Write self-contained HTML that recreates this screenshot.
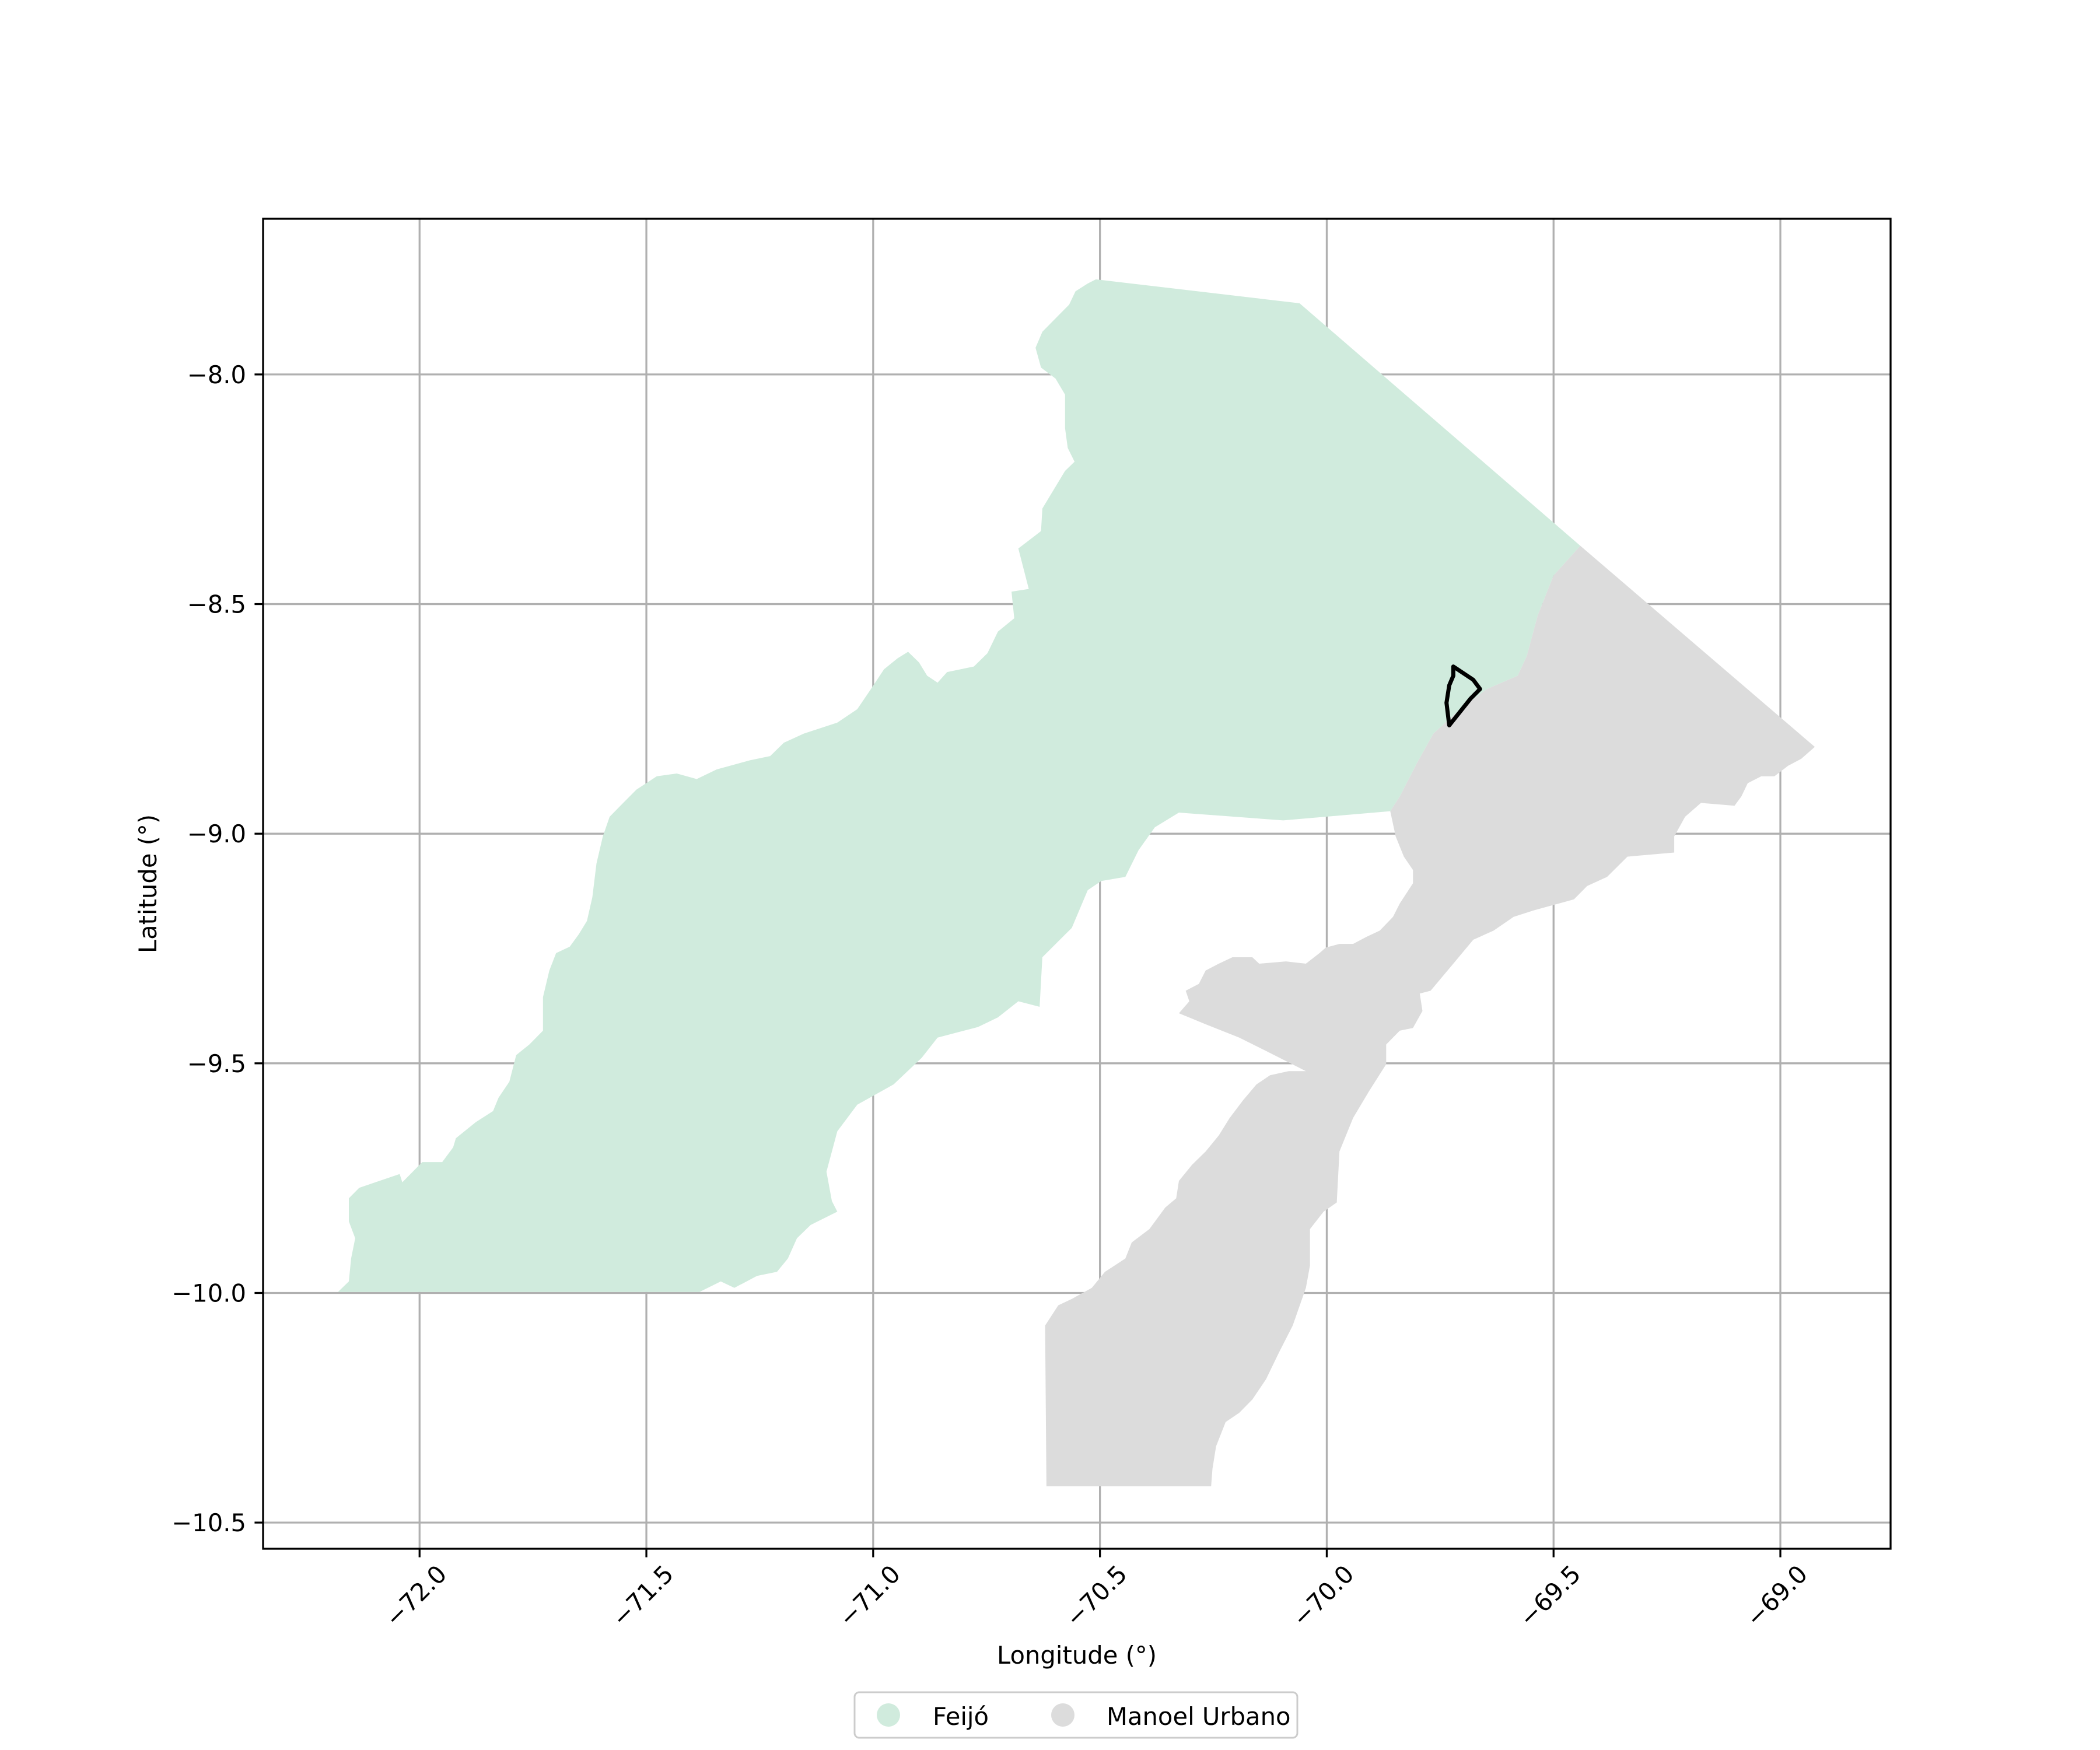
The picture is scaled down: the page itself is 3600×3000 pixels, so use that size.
<!DOCTYPE html>
<html><head><meta charset="utf-8"><style>
html,body{margin:0;padding:0;background:#fff}
svg{display:block;font-family:"DejaVu Sans","Liberation Sans",sans-serif}
</style></head><body>
<svg id="chart" width="3600" height="3000" viewBox="0 0 3600 3000" xmlns="http://www.w3.org/2000/svg">
<rect width="3600" height="3000" fill="#fff"/>
<defs><clipPath id="clip"><rect x="451" y="375" width="2790" height="2280"/></clipPath></defs>
<g id="grid"></g>
<g id="shapes" clip-path="url(#clip)"></g>
<rect x="451" y="375" width="2790" height="2280" fill="none" stroke="#000" stroke-width="3.3"/>
<g id="ticks"></g>
<text x="1846" y="2852" font-size="41.7" text-anchor="middle">Longitude (°)</text>
<text transform="translate(268,1515) rotate(-90)" font-size="41.7" text-anchor="middle">Latitude (°)</text>
<g>
<rect x="1465" y="2901" width="759" height="78" rx="8" fill="#fff" stroke="#ccc" stroke-width="3"/>
<circle cx="1523" cy="2940" r="20" fill="#d0ebdd"/>
<text x="1599" y="2957" font-size="41.7">Feijó</text>
<circle cx="1822" cy="2940" r="20" fill="#dcdcdc"/>
<text x="1897" y="2957" font-size="41.7">Manoel Urbano</text>
</g>
</svg>
<script>
const xTicks=[-72.0,-71.5,-71.0,-70.5,-70.0,-69.5,-69.0];
const yTicks=[-8.0,-8.5,-9.0,-9.5,-10.0,-10.5];
const feijoLon=[-70.509,-70.060,-69.441,-69.500,-69.535,-69.559,-69.579,-69.647,-69.706,-69.765,-69.801,-69.839,-69.860,-70.096,-70.326,-70.379,-70.415,-70.444,-70.497,-70.527,-70.562,-70.627,-70.633,-70.680,-70.725,-70.769,-70.858,-70.893,-70.955,-71.035,-71.079,-71.103,-71.091,-71.079,-71.138,-71.168,-71.188,-71.212,-71.256,-71.306,-71.336,-71.383,-72.180,-72.156,-72.151,-72.142,-72.156,-72.156,-72.133,-72.044,-72.038,-71.994,-71.950,-71.926,-71.920,-71.876,-71.838,-71.826,-71.802,-71.787,-71.758,-71.728,-71.728,-71.714,-71.699,-71.669,-71.649,-71.631,-71.619,-71.610,-71.596,-71.581,-71.551,-71.522,-71.477,-71.433,-71.389,-71.345,-71.271,-71.227,-71.197,-71.153,-71.079,-71.035,-71.005,-70.976,-70.946,-70.923,-70.899,-70.881,-70.858,-70.837,-70.778,-70.748,-70.725,-70.689,-70.695,-70.657,-70.680,-70.630,-70.627,-70.577,-70.556,-70.571,-70.577,-70.577,-70.598,-70.630,-70.642,-70.627,-70.592,-70.568,-70.554,-70.527];
const feijoLat=[-7.793,-7.845,-8.373,-8.438,-8.525,-8.613,-8.656,-8.685,-8.729,-8.782,-8.846,-8.919,-8.951,-8.971,-8.954,-8.986,-9.036,-9.094,-9.103,-9.123,-9.205,-9.269,-9.377,-9.365,-9.400,-9.421,-9.444,-9.488,-9.546,-9.590,-9.648,-9.736,-9.800,-9.823,-9.852,-9.881,-9.925,-9.954,-9.963,-9.989,-9.975,-9.998,-9.998,-9.975,-9.925,-9.881,-9.844,-9.794,-9.771,-9.741,-9.759,-9.715,-9.715,-9.683,-9.663,-9.628,-9.604,-9.575,-9.540,-9.482,-9.459,-9.429,-9.356,-9.298,-9.260,-9.246,-9.219,-9.190,-9.138,-9.065,-9.006,-8.963,-8.933,-8.904,-8.875,-8.869,-8.881,-8.860,-8.840,-8.831,-8.802,-8.782,-8.758,-8.729,-8.685,-8.642,-8.618,-8.604,-8.627,-8.656,-8.671,-8.648,-8.636,-8.607,-8.560,-8.531,-8.473,-8.467,-8.379,-8.341,-8.292,-8.210,-8.190,-8.160,-8.117,-8.044,-8.009,-7.985,-7.942,-7.907,-7.872,-7.848,-7.819,-7.802];
const urbanoLon=[-69.860,-69.839,-69.801,-69.765,-69.706,-69.647,-69.579,-69.559,-69.535,-69.500,-69.441,-68.924,-68.954,-68.983,-69.013,-69.042,-69.072,-69.086,-69.101,-69.175,-69.210,-69.234,-69.234,-69.337,-69.382,-69.426,-69.455,-69.544,-69.588,-69.632,-69.677,-69.721,-69.771,-69.795,-69.789,-69.810,-69.839,-69.869,-69.869,-69.907,-69.942,-69.972,-69.978,-70.007,-70.037,-70.037,-70.046,-70.075,-70.105,-70.134,-70.164,-70.193,-70.223,-70.244,-70.252,-70.255,-70.618,-70.621,-70.592,-70.562,-70.518,-70.489,-70.444,-70.430,-70.391,-70.356,-70.332,-70.326,-70.297,-70.267,-70.238,-70.214,-70.185,-70.155,-70.125,-70.084,-70.046,-70.134,-70.193,-70.267,-70.326,-70.303,-70.311,-70.282,-70.267,-70.238,-70.208,-70.164,-70.149,-70.090,-70.046,-70.016,-70.002,-69.972,-69.942,-69.913,-69.883,-69.854,-69.839,-69.810,-69.810,-69.830,-69.848];
const urbanoLat=[-8.951,-8.919,-8.846,-8.782,-8.729,-8.685,-8.656,-8.613,-8.525,-8.438,-8.373,-8.811,-8.837,-8.852,-8.875,-8.875,-8.890,-8.919,-8.939,-8.933,-8.963,-9.006,-9.041,-9.050,-9.094,-9.114,-9.143,-9.167,-9.181,-9.211,-9.231,-9.283,-9.342,-9.348,-9.386,-9.423,-9.429,-9.459,-9.502,-9.561,-9.619,-9.692,-9.803,-9.823,-9.861,-9.940,-9.989,-10.071,-10.129,-10.188,-10.232,-10.261,-10.281,-10.334,-10.383,-10.421,-10.421,-10.071,-10.027,-10.013,-9.989,-9.954,-9.925,-9.890,-9.861,-9.814,-9.794,-9.756,-9.721,-9.692,-9.657,-9.619,-9.581,-9.546,-9.526,-9.517,-9.517,-9.473,-9.444,-9.415,-9.391,-9.365,-9.342,-9.327,-9.298,-9.283,-9.269,-9.269,-9.283,-9.278,-9.283,-9.260,-9.248,-9.240,-9.240,-9.225,-9.211,-9.181,-9.152,-9.108,-9.079,-9.050,-9.006];
const outlineLon=[-69.721,-69.677,-69.662,-69.683,-69.730,-69.736,-69.730,-69.721];
const outlineLat=[-8.636,-8.665,-8.685,-8.706,-8.764,-8.715,-8.677,-8.656];

const NS='http://www.w3.org/2000/svg';
const X0=-72.345,X1=-68.757,Y0=-7.661,Y1=-10.557;
const L=451,R=3241,T=375,B=2655;
function sx(v){return L+(v-X0)/(X1-X0)*(R-L);}
function sy(v){return T+(v-Y0)/(Y1-Y0)*(B-T);}
function mk(tag,attrs,parent){const e=document.createElementNS(NS,tag);for(const k in attrs)e.setAttribute(k,attrs[k]);parent.appendChild(e);return e;}
const grid=document.getElementById('grid'),ticks=document.getElementById('ticks'),shapes=document.getElementById('shapes');
xTicks.forEach(v=>{const x=sx(v);
 const g=mk('line',{x1:x,x2:x,y1:T,y2:B,stroke:'#b0b0b0','stroke-width':3.3},grid);
 
 
 const t=mk('line',{x1:x,x2:x,y1:B,y2:B+14.6,stroke:'#000','stroke-width':3.3},ticks);
 
 
 const lb=mk('text',{x:0,y:0,'font-size':41.7,'text-anchor':'end',transform:`translate(${x+49},${B+46}) rotate(-45)`},ticks);
 lb.textContent='\u2212'+Math.abs(v).toFixed(1);
 
 
});
yTicks.forEach(v=>{const y=sy(v);
 const g=mk('line',{x1:L,x2:R,y1:y,y2:y,stroke:'#b0b0b0','stroke-width':3.3},grid);
 
 
 const t=mk('line',{x1:L-14.6,x2:L,y1:y,y2:y,stroke:'#000','stroke-width':3.3},ticks);
 
 
 const lb=mk('text',{x:L-29,y:y+15,'font-size':41.7,'text-anchor':'end'},ticks);
 lb.textContent='\u2212'+Math.abs(v).toFixed(1);
 
 
});
function pts(lo,la){return lo.map((v,i)=>sx(v).toFixed(1)+','+sy(la[i]).toFixed(1)).join(' ');}
const f=mk('polygon',{points:pts(feijoLon,feijoLat),fill:'#d0ebdd'},shapes);


const u=mk('polygon',{points:pts(urbanoLon,urbanoLat),fill:'#dcdcdc'},shapes);


const o=mk('polygon',{points:pts(outlineLon,outlineLat),fill:'none',stroke:'#000','stroke-width':7,'stroke-linejoin':'round'},shapes);


</script>
</body></html>
